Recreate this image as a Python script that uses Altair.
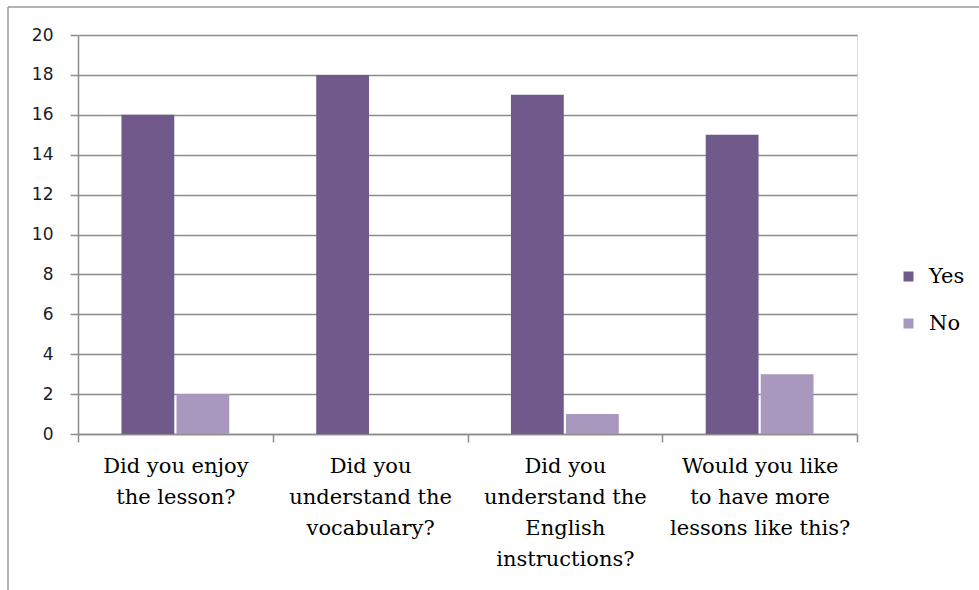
import altair as alt
import pandas as pd

questions = [
    "Did you enjoy|the lesson?",
    "Did you|understand the|vocabulary?",
    "Did you|understand the|English|instructions?",
    "Would you like|to have more|lessons like  this?",
]
series = ["Yes", "No"]
yes_values = [16, 18, 17, 15]
no_values = [2, 0, 1, 3]
y_ticks = [0, 2, 4, 6, 8, 10, 12, 14, 16, 18, 20]

rows = []
for q, y, n in zip(questions, yes_values, no_values):
    rows.append({"question": q, "answer": "Yes", "count": y})
    rows.append({"question": q, "answer": "No", "count": n})
df = pd.DataFrame(rows)

W, H = 779, 399
GRAY = "#8c8c8c"

bars = alt.Chart(df).mark_bar().encode(
    x=alt.X(
        "question:N",
        sort=questions,
        title=None,
        scale=alt.Scale(paddingInner=0, paddingOuter=0),
        axis=alt.Axis(
            labelExpr="split(datum.label, '|')",
            labelAngle=0,
            labelFont="DejaVu Serif",
            labelFontSize=21,
            labelColor="#000000",
            labelLineHeight=31,
            labelPadding=13,
            labelBaseline="top",
            labelLimit=400,
            labelOverlap=False,
            tickBand="extent",
            tickSize=8,
            tickColor=GRAY,
            tickWidth=1.5,
            domainColor=GRAY,
            domainWidth=1.5,
            grid=False,
        ),
    ),
    xOffset=alt.XOffset(
        "answer:N",
        sort=series,
        scale=alt.Scale(paddingInner=0.04, paddingOuter=0.79),
    ),
    y=alt.Y(
        "count:Q",
        title=None,
        scale=alt.Scale(domain=[0, 20], nice=False),
        axis=alt.Axis(
            values=y_ticks,
            labelFont="DejaVu Sans",
            labelFontSize=17,
            labelColor="#1a1a2a",
            labelPadding=17,
            tickSize=8,
            tickColor=GRAY,
            tickWidth=1.5,
            domainColor=GRAY,
            domainWidth=1.5,
            grid=True,
            gridColor=GRAY,
            gridWidth=1.5,
        ),
    ),
    color=alt.Color(
        "answer:N",
        sort=series,
        scale=alt.Scale(domain=series, range=["#705A8C", "#A898BE"]),
        legend=alt.Legend(
            title=None,
            orient="none",
            legendX=820,
            legendY=231,
            symbolType="square",
            symbolSize=100,
            symbolStrokeWidth=0,
            labelFont="DejaVu Serif",
            labelFontSize=21,
            labelColor="#000000",
            labelOffset=10,
            rowPadding=25,
        ),
    ),
)

frame_top = alt.Chart(pd.DataFrame({"k": [0]})).mark_rule(color="#9a9a9a", strokeWidth=1.5).encode(
    x=alt.value(-70), x2=alt.value(W + 130), y=alt.value(-28)
)
frame_left = alt.Chart(pd.DataFrame({"k": [0]})).mark_rule(color="#9a9a9a", strokeWidth=1.5).encode(
    x=alt.value(-70), y=alt.value(-28), y2=alt.value(H + 160)
)

chart = alt.layer(bars, frame_top, frame_left).properties(
    width=W,
    height=H,
    autosize=alt.AutoSizeParams(type="none"),
    padding={"left": 78, "top": 35, "right": 122, "bottom": 156},
).configure_view(stroke=None).configure(background="white")

chart.save("out.html", embed_options={"renderer": "svg", "actions": False})
